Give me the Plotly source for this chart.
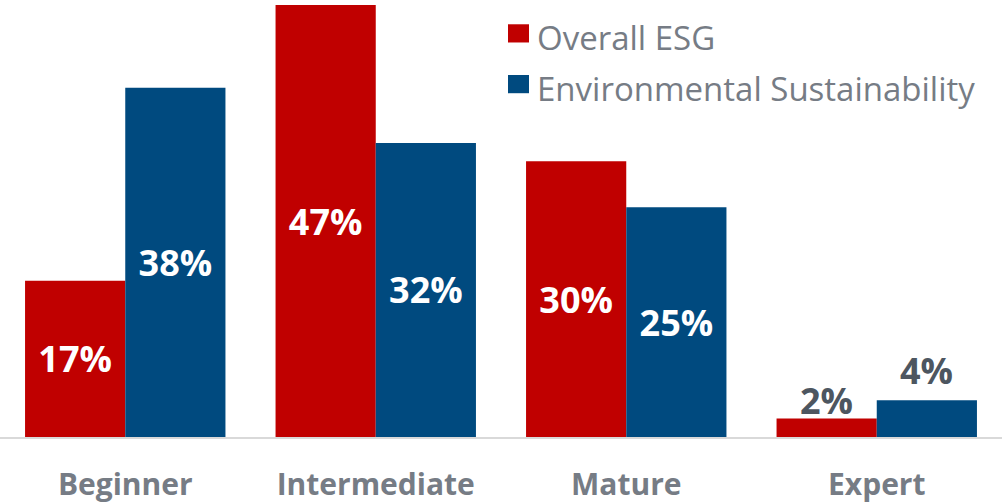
import plotly.graph_objects as go

categories = ["Beginner", "Intermediate", "Mature", "Expert"]
overall_esg = [17, 47, 30, 2]
environmental = [38, 32, 25, 4]
series_names = ["Overall ESG", "Environmental Sustainability"]

RED = "#C00000"
BLUE = "#004A7F"
AXIS_GRAY = "#767C85"
LABEL_DARK = "#4D5660"
FONT = "Open Sans"
SMALL = 10  # values below this get their label above the bar
OUTSIDE_SHIFT = {-1: -8, 1: 3}  # vertical nudge (px) of outside labels per series side

fig = go.Figure()
series = [(series_names[0], overall_esg, RED, -1), (series_names[1], environmental, BLUE, 1)]
for name, vals, col, side in series:
    fig.add_trace(go.Bar(
        x=categories, y=vals, name=name, marker=dict(color=col, line=dict(width=0)),
        text=[f"{v}%" if v >= SMALL else "" for v in vals], textposition="inside",
        insidetextanchor="middle", constraintext="none",
        textfont=dict(family=FONT, size=36, color="white", weight="bold"),
        showlegend=False, cliponaxis=False,
    ))
    for c, v in zip(categories, vals):
        if v < SMALL:
            fig.add_annotation(x=c, y=v, xref="x", yref="y", text=f"{v}%",
                               showarrow=False, yanchor="bottom", xshift=side * 50,
                               yshift=OUTSIDE_SHIFT[side],
                               font=dict(family=FONT, size=36, color=LABEL_DARK, weight="bold"))

fig.update_layout(
    width=1002, height=504, barmode="group", bargap=0.2, bargroupgap=0,
    margin=dict(l=0, r=0, t=0, b=67),
    plot_bgcolor="white", paper_bgcolor="white",
    xaxis=dict(showline=True, linecolor="#D9D9D9", linewidth=2, ticks="",
               tickfont=dict(family=FONT, size=30, color=AXIS_GRAY, weight="bold"),
               ticklabelstandoff=20, automargin=False, fixedrange=True),
    yaxis=dict(visible=False, range=[0, 47.55], showgrid=False, fixedrange=True,
               automargin=False),
)

# legend drawn manually
sq_y = [38.5, 97]
txt_y = [43.5, 102]
for i, (name, col) in enumerate([(series_names[0], RED), (series_names[1], BLUE)]):
    yc = 1 - sq_y[i] / 504
    fig.add_shape(type="rect", xref="paper", yref="paper",
                  x0=508 / 1002, x1=529 / 1002, y0=yc - 10.5 / 504, y1=yc + 10.5 / 504,
                  fillcolor=col, line=dict(width=0), layer="above")
    fig.add_annotation(xref="paper", yref="paper", x=535 / 1002, y=1 - txt_y[i] / 504,
                       xanchor="left", yanchor="middle", text=name, showarrow=False,
                       font=dict(family=FONT, size=33, color=AXIS_GRAY))

fig.write_html("out.html", config=dict(displayModeBar=False))
